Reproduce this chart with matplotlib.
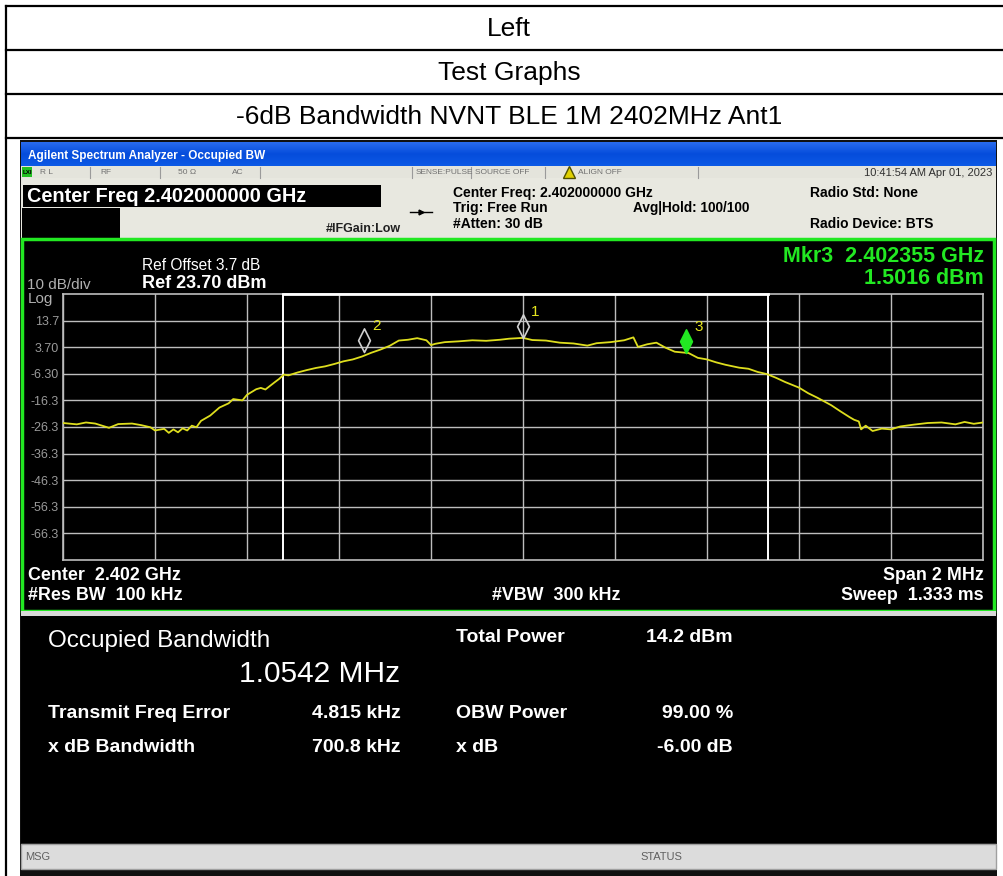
import numpy as np
import matplotlib
matplotlib.use('Agg')
import matplotlib.pyplot as plt
from matplotlib.patches import Rectangle
from matplotlib.path import Path

# Trace (offset from centre in MHz, level in dBm)
freq_mhz = [-1.00, -0.97, -0.95, -0.93, -0.90, -0.88, -0.85, -0.83, -0.81, -0.80,
            -0.78, -0.77, -0.76, -0.75, -0.74, -0.73, -0.72, -0.71, -0.70, -0.68,
            -0.66, -0.64, -0.63, -0.61, -0.60, -0.58, -0.57, -0.56, -0.54, -0.53,
            -0.52, -0.51, -0.49, -0.47, -0.45, -0.43, -0.41, -0.39, -0.37, -0.35,
            -0.33, -0.31, -0.29, -0.27, -0.25, -0.23, -0.21, -0.20, -0.19, -0.17,
            -0.14, -0.11, -0.08, -0.05, -0.03, 0.00, 0.02, 0.05, 0.08, 0.11,
            0.14, 0.16, 0.19, 0.22, 0.24, 0.25, 0.27, 0.29, 0.31, 0.33,
            0.36, 0.38, 0.40, 0.42, 0.44, 0.47, 0.49, 0.51, 0.53, 0.55,
            0.57, 0.60, 0.62, 0.64, 0.67, 0.69, 0.71, 0.72, 0.73, 0.735,
            0.745, 0.76, 0.78, 0.80, 0.82, 0.85, 0.88, 0.91, 0.94, 0.96,
            0.98, 1.00]
level_dbm = [-24.8, -25.3, -24.6, -25.0, -26.6, -25.2, -25.0, -25.6, -26.4, -27.6,
             -27.0, -28.5, -27.2, -28.3, -26.8, -27.6, -25.8, -26.4, -24.0, -22.0,
             -19.0, -17.4, -15.8, -16.3, -14.2, -12.1, -11.6, -12.2, -9.5, -8.2,
             -6.6, -6.9, -5.8, -4.9, -4.1, -3.5, -2.6, -1.6, -0.9, 0.2,
             1.6, 2.8, 4.2, 6.2, 6.5, 7.1, 6.3, 4.5, 5.0, 5.6,
             5.9, 6.3, 6.1, 6.5, 6.9, 7.2, 6.4, 6.2, 5.4, 5.1,
             4.3, 5.2, 5.6, 6.3, 7.4, 3.8, 4.8, 5.4, 3.5, 2.0,
             1.5, -0.3, -0.9, -2.0, -2.9, -4.0, -4.4, -5.6, -6.4, -7.8,
             -9.4, -11.5, -13.6, -15.3, -18.1, -20.4, -22.6, -23.6, -24.2, -27.2,
             -25.8, -27.8, -26.9, -27.2, -26.1, -25.4, -24.8, -24.6, -25.3, -24.4,
             -25.1, -24.6]

marker_ids = ['1', '2', '3']
marker_freq = [0.0, -0.345, 0.355]
marker_level = [7.2, 1.9, 1.5]

ref_level = 23.7
db_per_div = 10
y_tick_labels = ['13.7', '3.70', '-6.30', '-16.3', '-26.3', '-36.3', '-46.3', '-56.3', '-66.3']
obw_mhz = 1.0542
freq_error_mhz = 0.004815

table_rows = ['Left', 'Test Graphs', '-6dB Bandwidth NVNT BLE 1M 2402MHz Ant1']

W, H = 1004, 876
plt.rcParams['font.family'] = ['Liberation Sans', 'DejaVu Sans']
fig = plt.figure(figsize=(W / 100, H / 100), dpi=100)
fig.patch.set_facecolor('white')

# overlay in pixel coordinates for the table and the instrument screen furniture
ov = fig.add_axes([0, 0, 1, 1])
ov.set_xlim(0, W)
ov.set_ylim(H, 0)
ov.axis('off')


def box(x, y, w, h, fc, ec='none', lw=0, z=1):
    ov.add_patch(Rectangle((x, y), w, h, facecolor=fc, edgecolor=ec, lw=lw, zorder=z))


def txt(x, y, s, size=9, color='white', weight='normal', ha='left', z=5, **kw):
    ov.text(x, y, s, fontsize=size, color=color, fontweight=weight, ha=ha,
            va='center', zorder=z, **kw)


# table
for yy in [6, 50, 94, 138]:
    ov.plot([6, W], [yy, yy], color='black', lw=1.6, zorder=2)
ov.plot([6, 6], [6, H], color='black', lw=1.6, zorder=2)
for i, label in enumerate(table_rows):
    txt(509, 29 + 44 * i, label, size=19, color='black', ha='center')

# screen frame
box(20, 140, 977, 736, '#101010', z=1)
grad = np.linspace(0, 1, 30)[:, None]
blue = np.array([[0.16, 0.42, 0.93], [0.02, 0.30, 0.86], [0.05, 0.35, 0.90]])
cols = np.array([np.interp(grad[:, 0], [0, 0.5, 1], blue[:, c]) for c in range(3)]).T
ov.imshow(cols[:, None, :], extent=(21, 996, 166, 142), aspect='auto', zorder=2)
txt(28, 156, 'Agilent Spectrum Analyzer - Occupied BW', size=8.5, weight='bold')

# status row
box(21, 166, 975, 12, '#e4e4dc', z=2)
box(22, 167, 10, 10, '#22c022', z=3)
txt(23, 172, 'LXI', size=4.5, color='black', weight='bold', z=6)
for xs in [90, 160, 260, 412, 471, 545, 698]:
    ov.plot([xs, xs], [167, 178], color='#9a9a9a', lw=0.8, zorder=3)
for x0, s in [(40, 'R L'), (100, 'RF'), (178, '50 \u03a9'), (232, 'AC'),
              (416, 'SENSE:PULSE'), (475, 'SOURCE OFF'), (578, 'ALIGN OFF')]:
    txt(x0, 172.5, s, size=6, color='#707070')
ov.plot([569], [172], marker='^', color='#e0d000', ms=8, mec='#505000', zorder=6)
txt(992, 172.5, '10:41:54 AM Apr 01, 2023', size=8, color='#303030', ha='right')

# header area
box(21, 178, 975, 61, '#e8e8e0', z=2)
box(23, 185, 358, 22, 'black', z=3)
txt(27, 196, 'Center Freq 2.402000000 GHz', size=14.3, weight='bold', z=6)
box(22, 208, 98, 30, 'black', z=3)
txt(326, 229, '#IFGain:Low', size=9, color='#202020', weight='bold')
ov.plot([410, 432], [212, 212], color='black', lw=1.0, zorder=6)
ov.plot([421], [212], marker='>', color='black', ms=3.5, zorder=6)
for yy, s in [(193, 'Center Freq: 2.402000000 GHz'), (208, 'Trig: Free Run'),
              (224, '#Atten: 30 dB')]:
    txt(453, yy, s, size=10, color='black', weight='bold')
txt(633, 208, 'Avg|Hold: 100/100', size=9.8, color='black', weight='bold')
txt(810, 193, 'Radio Std: None', size=10, color='black', weight='bold')
txt(810, 224, 'Radio Device: BTS', size=10, color='black', weight='bold')

# graph panel with green frame
box(22, 239, 972, 372, 'black', ec='#22e822', lw=2.5, z=3)
txt(142, 266, 'Ref Offset 3.7 dB', size=11.2)
txt(142, 283, 'Ref 23.70 dBm', size=13, weight='bold')
txt(27, 285, '10 dB/div', size=11, color='#b0b0b0')
txt(28, 299, 'Log', size=11, color='#b0b0b0')
mk = len(marker_ids) - 1
txt(984, 257, 'Mkr%s  2.402355 GHz' % marker_ids[mk], size=15.5, color='#22e822', weight='bold', ha='right')
txt(984, 278, '%.4f dBm' % 1.5016, size=15.5, color='#22e822', weight='bold', ha='right')
txt(28, 575, 'Center  2.402 GHz', size=12.9, weight='bold')
txt(28, 596, '#Res BW  100 kHz', size=12.9, weight='bold')
txt(492, 596, '#VBW  300 kHz', size=12.9, weight='bold')
txt(984, 575, 'Span 2 MHz', size=12.9, weight='bold', ha='right')
txt(984, 596, 'Sweep  1.333 ms', size=12.9, weight='bold', ha='right')

# separator and measurement area
box(21, 611, 975, 5, '#d8d8d8', z=3)
box(21, 616, 975, 227, 'black', z=3)
txt(48, 641, 'Occupied Bandwidth', size=17.5)
txt(400, 674, '%.4f MHz' % obw_mhz, size=21.5, ha='right')
rows = [(714, 'Transmit Freq Error', '%.3f kHz' % (freq_error_mhz * 1000), 'OBW Power', '99.00 %'),
        (747, 'x dB Bandwidth', '700.8 kHz', 'x dB', '-6.00 dB')]
txt(456, 638, 'Total Power', size=14, weight='bold')
txt(733, 638, '14.2 dBm', size=14, weight='bold', ha='right')
for yy, a, b, c, d in rows:
    txt(48, yy, a, size=14, weight='bold')
    txt(401, yy, b, size=14, weight='bold', ha='right')
    txt(456, yy, c, size=14, weight='bold')
    txt(733, yy, d, size=14, weight='bold', ha='right')

# status bar
box(21, 844, 975, 25, '#dcdcdc', ec='#a0a0a0', lw=1, z=3)
txt(25, 857, 'MSG', size=8, color='#606060')
txt(640, 857, 'STATUS', size=8, color='#606060')

# spectrum graticule
x0, x1, y0, y1 = 63, 983, 294, 560
ax = fig.add_axes([x0 / W, 1 - y1 / H, (x1 - x0) / W, (y1 - y0) / H])
ax.set_facecolor('black')
ax.set_xlim(-1, 1)
ax.set_ylim(ref_level - 10 * db_per_div, ref_level)
ax.set_xticks(np.linspace(-1, 1, 11))
ax.set_yticks(ref_level - db_per_div * np.arange(1, 10))
ax.set_yticklabels(y_tick_labels)
ax.tick_params(length=0, labelbottom=False, labelsize=9, labelcolor='#9a9a9a', pad=3)
ax.grid(True, color='#bdbdbd', lw=1.0)
for s in ax.spines.values():
    s.set_color('#bdbdbd')
    s.set_linewidth(1.2)

obw_lo = freq_error_mhz - obw_mhz / 2
obw_hi = freq_error_mhz + obw_mhz / 2
for f in (obw_lo, obw_hi):
    ax.axvline(f, color='white', lw=1.4, zorder=3)
ax.plot([obw_lo, obw_hi], [ref_level, ref_level], color='white', lw=2.0, zorder=3, clip_on=False)

ax.plot(freq_mhz, level_dbm, color='#dede1e', lw=1.3, zorder=4)

diamond = Path([(0, 0), (0.5, 1), (0, 2), (-0.5, 1), (0, 0)],
               [Path.MOVETO, Path.LINETO, Path.LINETO, Path.LINETO, Path.CLOSEPOLY])
for i, (mid, f, lv) in enumerate(zip(marker_ids, marker_freq, marker_level)):
    active = i == mk
    ax.plot([f], [lv], marker=diamond, ms=34, mfc='#22e822' if active else 'none',
            mec='#22e822' if active else '#d0d0d0', mew=1.2, zorder=5)
    ax.annotate(mid, (f, lv), xytext=(8, 22), textcoords='offset pixels',
                color='#e6e61e', fontsize=11, zorder=6)

fig.savefig('out.png', dpi=100, facecolor='white')
